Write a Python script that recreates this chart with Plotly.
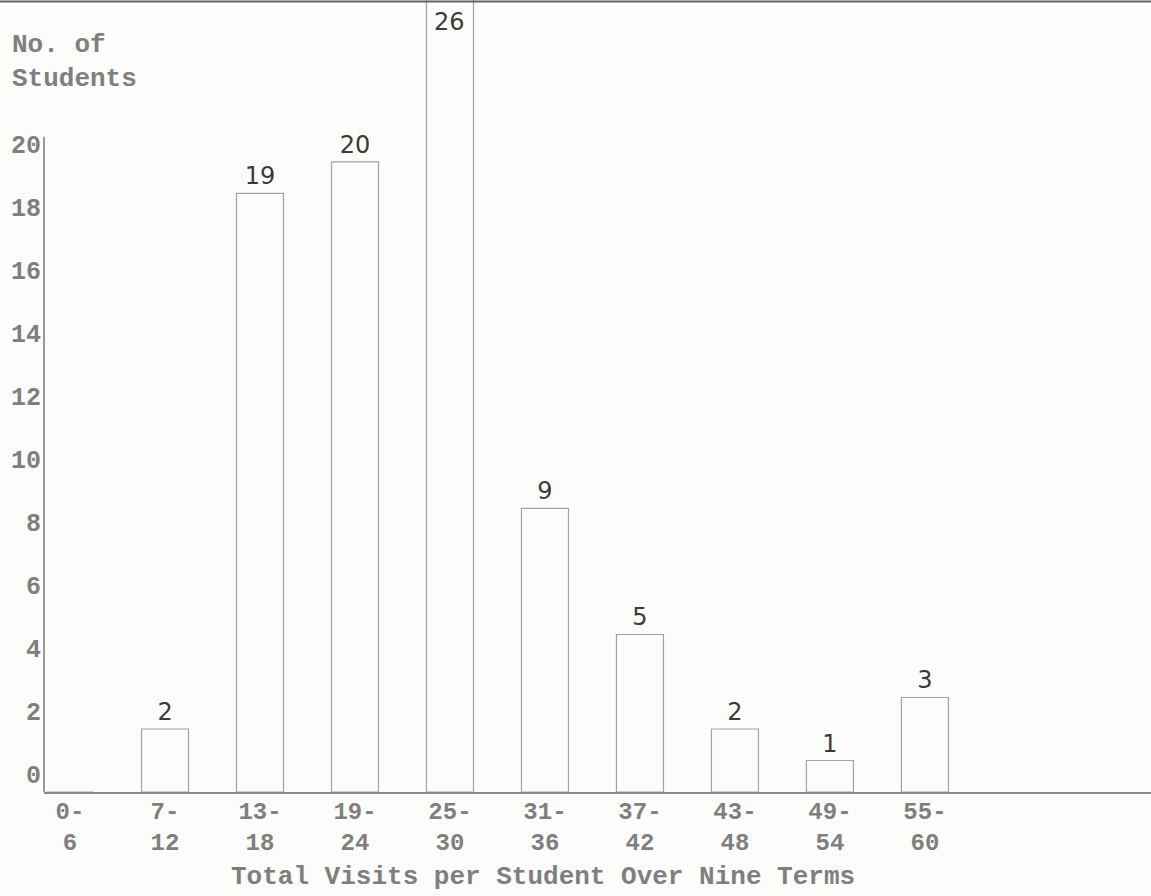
import plotly.graph_objects as go

categories = ["0-<br>6", "7-<br>12", "13-<br>18", "19-<br>24", "25-<br>30",
              "31-<br>36", "37-<br>42", "43-<br>48", "49-<br>54", "55-<br>60"]
students = [0, 2, 19, 20, 26, 9, 5, 2, 1, 3]
y_ticks = [0, 2, 4, 6, 8, 10, 12, 14, 16, 18, 20]

idx = list(range(len(categories)))
y_top = 25.14
# bars taller than the visible range get their value label pinned at the top edge
labels_txt = [str(v) if 0 < v <= y_top else "" for v in students]
over = [(i, v) for i, v in zip(idx, students) if v > y_top]

mono = "Liberation Mono"
gray = "#7f7f7f"

fig = go.Figure()
fig.add_trace(go.Bar(
    x=idx, y=students, width=0.495,
    marker=dict(color="rgba(255,255,255,0)", line=dict(color="#a3a3a3", width=1.2)),
    text=labels_txt, textposition="outside", cliponaxis=False,
    textfont=dict(family="DejaVu Sans", size=24, color="#3a3a3a"),
    showlegend=False,
))

annotations = [
    dict(text="No. of<br>Students", xref="paper", yref="paper",
         x=-0.031, y=0.965, xanchor="left", yanchor="top", align="left", showarrow=False,
         font=dict(family=mono, size=26, color=gray, weight="bold")),
    dict(text="Total Visits per Student Over Nine Terms", xref="paper", yref="paper",
         x=0.451, y=-0.107, xanchor="center", yanchor="middle", showarrow=False,
         font=dict(family=mono, size=26, color=gray, weight="bold")),
]
for i, v in over:
    annotations.append(dict(text=str(v), x=i, y=y_top, xref="x", yref="y",
                            yanchor="top", yshift=-6, showarrow=False,
                            font=dict(family="DejaVu Sans", size=24, color="#3a3a3a"),
                            bgcolor="#fcfcfa"))

fig.update_layout(
    width=1151, height=896,
    margin=dict(l=44, r=0, t=0, b=104),
    paper_bgcolor="#fcfcfa", plot_bgcolor="#fcfcfa",
    xaxis=dict(
        range=[-0.274, 11.38], tickmode="array", tickvals=idx, ticktext=categories,
        showgrid=False, zeroline=False, showline=True, linecolor="#8a8a8a", linewidth=1.5,
        ticks="", automargin=False, ticklabelstandoff=-4,
        tickfont=dict(family=mono, size=24, color=gray, weight="bold"),
    ),
    yaxis=dict(
        range=[0, y_top], tickmode="array", tickvals=y_ticks,
        ticktext=[str(t) for t in y_ticks],
        showgrid=False, zeroline=False, showline=False, ticks="", automargin=False,
        tickfont=dict(family=mono, size=25, color=gray, weight="bold"),
        ticklabelshift=-18, ticklabelstandoff=2,
    ),
    annotations=annotations,
    shapes=[
        dict(type="line", xref="paper", yref="y", x0=0, x1=0, y0=0, y1=20.8,
             line=dict(color="#7a7a7a", width=1.5)),
        dict(type="line", xref="paper", yref="paper", x0=-0.04, x1=1, y0=0.998, y1=0.998,
             line=dict(color="#666666", width=2)),
    ],
)

fig.write_html("out.html", config={"displayModeBar": False},
               post_script="document.body.style.margin='0';")
